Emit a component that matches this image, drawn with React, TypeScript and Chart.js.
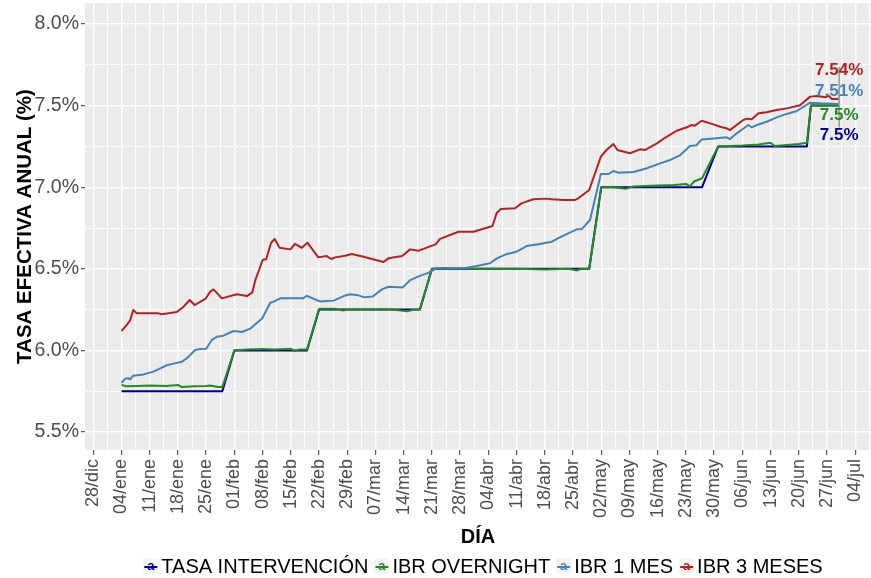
import React, { useEffect, useRef } from 'react';
import { Chart, registerables } from 'chart.js';

Chart.register(...registerables);

// ---------- DATA (x = days since 28/dic/2015) ----------
const WEEK_LABELS = [
  '28/dic', '04/ene', '11/ene', '18/ene', '25/ene', '01/feb', '08/feb', '15/feb', '22/feb', '29/feb',
  '07/mar', '14/mar', '21/mar', '28/mar', '04/abr', '11/abr', '18/abr', '25/abr', '02/may', '09/may',
  '16/may', '23/may', '30/may', '06/jun', '13/jun', '20/jun', '27/jun', '04/jul',
];
const Y_TICKS = [5.5, 5.75, 6.0, 6.25, 6.5, 6.75, 7.0, 7.25, 7.5, 7.75, 8.0];

const SERIES_NAMES = ['TASA INTERVENCIÓN', 'IBR OVERNIGHT', 'IBR 1 MES', 'IBR 3 MESES'];
const SERIES_COLORS = ['#00008B', '#228B22', '#4682B4', '#B22222'];

const tasaDays = [7, 32, 35, 53, 56, 81, 84, 123, 126, 151, 155, 177, 178, 185];
const tasaValues = [5.75, 5.75, 6.0, 6.0, 6.25, 6.25, 6.5, 6.5, 7.0, 7.0, 7.25, 7.25, 7.5, 7.5];

const overnightDays = [
  7, 8, 11, 14, 18, 21, 22, 25, 28, 29, 31, 32,
  35, 38, 42, 45, 49, 50, 51, 53,
  56, 60, 62, 63, 70, 74, 78, 79, 81,
  84, 88, 95, 105, 112, 118, 120, 121, 123,
  126, 129, 132, 134, 140, 144, 147, 148, 149, 151,
  155, 158, 161, 165, 168, 169, 172, 175, 177,
  178, 185,
];
const overnightValues = [
  5.79, 5.78, 5.782, 5.785, 5.782, 5.788, 5.775, 5.78, 5.782, 5.785, 5.776, 5.775,
  6.0, 6.005, 6.008, 6.005, 6.01, 5.995, 6.005, 6.005,
  6.255, 6.255, 6.245, 6.25, 6.25, 6.25, 6.24, 6.248, 6.25,
  6.5, 6.505, 6.5, 6.5, 6.495, 6.5, 6.49, 6.5, 6.5,
  7.0, 7.0, 6.99, 7.005, 7.01, 7.013, 7.02, 7.005, 7.035, 7.055,
  7.25, 7.252, 7.255, 7.262, 7.273, 7.252, 7.258, 7.265, 7.273,
  7.5, 7.5,
];

const mes1Days = [
  7, 7.9, 8.7, 9.1, 9.9, 12.4, 14.9, 16.6, 18.2, 19.9,
  22, 23.2, 25.3, 26.5, 28, 29.4, 30.7, 32.3, 34.8, 36.9,
  38.9, 41.9, 43.9, 44.7, 46.4, 52.1, 52.9, 56.3, 57.9, 59.6,
  62.1, 63.7, 65.3, 67.3, 69.3, 71.6, 73.2, 76.8, 78.6, 81.1,
  82.8, 85.1, 91.9, 95.1, 98.4, 100.1, 102.6, 105, 106.6, 107.5,
  110.8, 113.7, 115.7, 119.9, 121.1, 123.2, 125.9, 127.8, 129, 130.2,
  134, 137.3, 140.6, 143.1, 145.6, 148, 149.6, 150.9, 154.6, 157.1,
  157.9, 159.6, 161.7, 162.5, 163.3, 164.6, 167, 169.5, 172, 174.5,
  177.8, 180.3, 185,
];
const mes1Values = [
  5.802, 5.827, 5.829, 5.823, 5.845, 5.853, 5.87, 5.89, 5.909, 5.919,
  5.931, 5.952, 6.002, 6.009, 6.01, 6.064, 6.084, 6.09, 6.119, 6.113,
  6.133, 6.197, 6.292, 6.299, 6.319, 6.319, 6.335, 6.299, 6.303, 6.305,
  6.333, 6.344, 6.34, 6.325, 6.33, 6.374, 6.39, 6.386, 6.431, 6.458,
  6.472, 6.503, 6.503, 6.517, 6.534, 6.564, 6.591, 6.605, 6.626, 6.64,
  6.652, 6.666, 6.693, 6.742, 6.742, 6.799, 7.081, 7.081, 7.099, 7.089,
  7.093, 7.116, 7.146, 7.167, 7.197, 7.252, 7.257, 7.293, 7.3, 7.306,
  7.295, 7.33, 7.367, 7.381, 7.367, 7.381, 7.401, 7.428, 7.449, 7.467,
  7.518, 7.514, 7.51,
];

const mes3Days = [
  7, 8.3, 9.1, 9.9, 10.8, 16.1, 17, 20.7, 22.4, 23.9,
  25.1, 27.8, 29, 29.8, 31.9, 35.6, 38.1, 39.4, 40.2, 42,
  42.9, 44.1, 45, 46.2, 48.9, 50, 51.7, 53.1, 55.8, 57.9,
  59, 60, 62.5, 64.1, 67, 72, 73.2, 76.6, 78.6, 80.7,
  84.9, 86, 90.6, 94.3, 98.4, 99, 100.1, 101.1, 104.6, 106.2,
  109.1, 112.4, 113.7, 116.6, 119.5, 120.3, 123, 125.9, 127.3, 129,
  130, 133.1, 135.6, 136.9, 139.8, 142.2, 144.7, 147.2, 148.4, 149.2,
  150.9, 153.8, 155.9, 157.1, 157.9, 161.2, 162.1, 163.3, 165, 167,
  169.5, 172, 175.3, 177.8, 179.5, 181.6, 182.4, 183.2, 185,
];
const mes3Values = [
  6.119, 6.156, 6.182, 6.248, 6.227, 6.227, 6.221, 6.235, 6.268, 6.309,
  6.278, 6.315, 6.36, 6.374, 6.319, 6.344, 6.333, 6.354, 6.431, 6.554,
  6.56, 6.66, 6.683, 6.629, 6.619, 6.652, 6.629, 6.66, 6.57, 6.578,
  6.56, 6.57, 6.58, 6.591, 6.574, 6.542, 6.564, 6.578, 6.619, 6.611,
  6.65, 6.683, 6.727, 6.727, 6.758, 6.762, 6.844, 6.866, 6.871, 6.901,
  6.926, 6.93, 6.926, 6.922, 6.922, 6.932, 6.983, 7.187, 7.228, 7.265,
  7.228, 7.208, 7.232, 7.228, 7.269, 7.309, 7.346, 7.367, 7.381, 7.377,
  7.407, 7.385, 7.367, 7.361, 7.35, 7.412, 7.42, 7.416, 7.453, 7.459,
  7.473, 7.483, 7.502, 7.555, 7.559, 7.551, 7.561, 7.54, 7.54,
];

const X_TITLE = 'DÍA';
const Y_TITLE = 'TASA EFECTIVA ANUAL (%)';

// ---------- STYLE ----------
const FONT = '"Liberation Sans", Arial, Helvetica, sans-serif';
const PANEL_BG = '#EBEBEB';
const W = 871;
const H = 578;
// label repel offsets (px) for end labels, same order as SERIES_NAMES
const LABEL_NUDGE = [30, 10, -13, -29];

const pairs = (xs: number[], ys: number[]) => xs.map((x, i) => ({ x, y: ys[i] }));
const fmtEnd = (v: number) => `${parseFloat(v.toFixed(2))}%`;

const SERIES = [
  { days: tasaDays, values: tasaValues },
  { days: overnightDays, values: overnightValues },
  { days: mes1Days, values: mes1Values },
  { days: mes3Days, values: mes3Values },
];

const decorPlugin = {
  id: 'decor',
  beforeDraw(chart: any) {
    const { ctx, chartArea: a } = chart;
    ctx.save();
    ctx.fillStyle = PANEL_BG;
    ctx.fillRect(a.left, a.top, a.right - a.left, a.bottom - a.top);
    ctx.restore();
  },
  afterDraw(chart: any) {
    const { ctx, chartArea: a, scales } = chart;
    const xs = scales.x;
    const ys = scales.y;

    // axis titles
    ctx.save();
    ctx.fillStyle = '#000000';
    ctx.textAlign = 'center';
    ctx.textBaseline = 'middle';
    ctx.font = `bold 20px ${FONT}`;
    ctx.fillText(X_TITLE, (a.left + a.right) / 2, 537);
    ctx.translate(25, (a.top + a.bottom) / 2);
    ctx.rotate(-Math.PI / 2);
    ctx.font = `bold 20.5px ${FONT}`;
    ctx.fillText(Y_TITLE, 0, 0);
    ctx.restore();

    // end labels (repelled)
    const labels = SERIES.map((s, i) => {
      const n = s.days.length;
      const px = xs.getPixelForValue(s.days[n - 1]);
      const py = ys.getPixelForValue(s.values[n - 1]);
      return { px, py, ly: py + LABEL_NUDGE[i], text: fmtEnd(s.values[n - 1]), color: SERIES_COLORS[i] };
    });
    ctx.save();
    ctx.strokeStyle = '#9A9A9A';
    ctx.lineWidth = 1.5;
    labels.forEach((l) => {
      const from = l.ly < l.py ? l.ly - 3 : l.ly - 8;
      ctx.beginPath();
      ctx.moveTo(l.px, from);
      ctx.lineTo(l.px, l.py);
      ctx.stroke();
    });
    ctx.font = `bold 17px ${FONT}`;
    ctx.textAlign = 'center';
    ctx.textBaseline = 'middle';
    labels.forEach((l) => {
      ctx.fillStyle = l.color;
      ctx.fillText(l.text, l.px, l.ly);
    });
    ctx.restore();

    // legend
    ctx.save();
    ctx.font = `20px ${FONT}`;
    const keyW = 15;
    const keyGap = 3;
    const itemGap = 6;
    const widths = SERIES_NAMES.map((t) => ctx.measureText(t).width);
    const total = widths.reduce((s, w) => s + w, 0) + SERIES_NAMES.length * (keyW + keyGap) + (SERIES_NAMES.length - 1) * itemGap;
    let x = 483 - total / 2;
    const cy = 566;
    SERIES_NAMES.forEach((name, i) => {
      ctx.fillStyle = '#F2F2F2';
      ctx.fillRect(x, cy - keyW / 2, keyW, keyW);
      ctx.strokeStyle = SERIES_COLORS[i];
      ctx.lineWidth = 2;
      ctx.beginPath();
      ctx.moveTo(x + 1, cy + 1);
      ctx.lineTo(x + keyW - 1, cy + 1);
      ctx.stroke();
      ctx.fillStyle = SERIES_COLORS[i];
      ctx.font = `bold 13px ${FONT}`;
      ctx.textAlign = 'center';
      ctx.textBaseline = 'middle';
      ctx.fillText('a', x + keyW / 2, cy);
      ctx.font = `20px ${FONT}`;
      ctx.textAlign = 'left';
      ctx.fillStyle = '#000000';
      ctx.fillText(name, x + keyW + keyGap, cy + 1);
      x += keyW + keyGap + widths[i] + itemGap;
    });
    ctx.restore();
  },
};

export default function App() {
  const ref = useRef<HTMLCanvasElement | null>(null);

  useEffect(() => {
    if (!ref.current) return;
    const xGrid: number[] = [];
    for (let k = 0; k * 3.5 <= 193; k++) xGrid.push(k * 3.5);
    const isMajorX = (v: number) => Number.isInteger(v / 7);
    const isMajorY = (v: number) => Number.isInteger(Math.round(v * 100) / 50);

    const order = [3, 2, 1, 0]; // first dataset is drawn on top
    const chart = new Chart(ref.current, {
      type: 'line',
      data: {
        datasets: order.map((i) => ({
          label: SERIES_NAMES[i],
          data: pairs(SERIES[i].days, SERIES[i].values),
          borderColor: SERIES_COLORS[i],
          backgroundColor: SERIES_COLORS[i],
          borderWidth: 2,
          borderJoinStyle: 'round',
          pointRadius: 0,
          tension: 0,
          fill: false,
        })),
      },
      options: {
        animation: false,
        responsive: false,
        devicePixelRatio: 1,
        layout: { padding: { top: 3, left: 0, right: 0, bottom: 0 } },
        plugins: {
          legend: { display: false },
          tooltip: { enabled: false },
          title: { display: false },
        },
        scales: {
          x: {
            type: 'linear',
            min: -2.06,
            max: 192.9,
            bounds: 'data',
            afterBuildTicks: (s: any) => {
              s.ticks = xGrid.map((v) => ({ value: v }));
            },
            afterFit: (s: any) => {
              s.height = 128;
              s.paddingLeft = 0;
              s.paddingRight = 0;
            },
            border: { display: false },
            grid: {
              color: '#FFFFFF',
              lineWidth: (c: any) => (c.tick && isMajorX(c.tick.value) ? 1.4 : 0.9),
              tickColor: (c: any) => (c.tick && isMajorX(c.tick.value) ? '#333333' : 'rgba(0,0,0,0)'),
              tickWidth: 1,
              tickLength: 5,
            },
            ticks: {
              autoSkip: false,
              minRotation: 90,
              maxRotation: 90,
              padding: 4,
              color: '#4D4D4D',
              font: { family: FONT, size: 18 },
              callback: (v: any) => {
                const w = Number(v) / 7;
                return Number.isInteger(w) ? WEEK_LABELS[w] ?? '' : '';
              },
            },
          },
          y: {
            type: 'linear',
            min: 5.3897,
            max: 8.1287,
            bounds: 'data',
            afterBuildTicks: (s: any) => {
              s.ticks = Y_TICKS.map((v) => ({ value: v }));
            },
            afterFit: (s: any) => {
              s.width = 85;
              s.paddingTop = 0;
              s.paddingBottom = 0;
            },
            border: { display: false },
            grid: {
              color: '#FFFFFF',
              lineWidth: (c: any) => (c.tick && isMajorY(c.tick.value) ? 1.4 : 0.9),
              tickColor: (c: any) => (c.tick && isMajorY(c.tick.value) ? '#333333' : 'rgba(0,0,0,0)'),
              tickWidth: 1,
              tickLength: 4,
            },
            ticks: {
              autoSkip: false,
              padding: 2,
              color: '#4D4D4D',
              font: { family: FONT, size: 19.5 },
              callback: (v: any) => (isMajorY(Number(v)) ? `${Number(v).toFixed(1)}%` : ''),
            },
          },
        },
      },
      plugins: [decorPlugin],
    } as any);
    return () => chart.destroy();
  }, []);

  return (
    <div style={{ position: 'absolute', left: 0, top: 0, width: W, height: H, background: '#FFFFFF' }}>
      <canvas ref={ref} width={W} height={H} style={{ width: W, height: H, display: 'block' }} />
    </div>
  );
}
